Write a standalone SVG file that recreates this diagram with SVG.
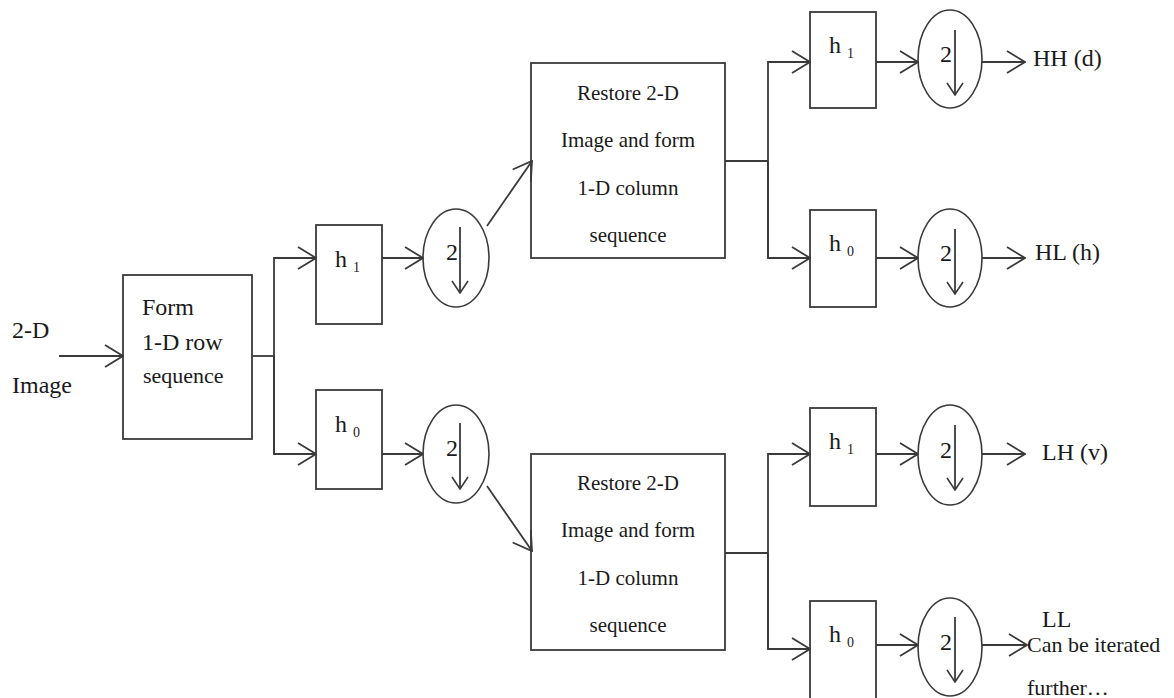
<svg xmlns="http://www.w3.org/2000/svg" width="1174" height="698" viewBox="0 0 1174 698">
<style>
.box{fill:#fff;stroke:#3a3a3a;stroke-width:1.8}
.ell{fill:#fff;stroke:#3a3a3a;stroke-width:1.6}
.ln{fill:none;stroke:#3a3a3a;stroke-width:1.8}
.t{font-family:"Liberation Serif","Times New Roman",serif;fill:#1a1a1a}
.f24{font-size:24px}
.f22{font-size:22px}
.f21{font-size:21px}
.sub{font-size:14px}
</style>
<defs>
<marker id="ah" viewBox="0 0 20 24" refX="19" refY="12" markerWidth="20" markerHeight="24" orient="auto" markerUnits="userSpaceOnUse">
<path d="M1,1 L19,12 L1,23" fill="none" stroke="#3a3a3a" stroke-width="1.8"/>
</marker>
<marker id="dn" viewBox="0 0 14 18" refX="13" refY="9" markerWidth="14" markerHeight="18" orient="auto" markerUnits="userSpaceOnUse">
<path d="M1,1 L13,9 L1,17" fill="none" stroke="#3a3a3a" stroke-width="1.6"/>
</marker>
</defs>
<rect width="1174" height="698" fill="#fff"/>

<g id="input-label">
<text class="t f24" x="12" y="338">2-D</text>
<text class="t f24" x="12" y="393">Image</text>
</g>

<g id="form-row">
<rect class="box" x="123" y="275" width="129" height="164"/>
<text class="t f24" x="142" y="315">Form</text>
<text class="t f24" x="142" y="350">1-D row</text>
<text class="t f22" x="143" y="383">sequence</text>
</g>

<g id="h1-row">
<rect class="box" x="316" y="225" width="66" height="99"/>
<text class="t f24" x="335" y="267">h <tspan class="sub" dy="5">1</tspan></text>
</g>
<g id="h0-row">
<rect class="box" x="316" y="390" width="66" height="99"/>
<text class="t f24" x="335" y="432">h <tspan class="sub" dy="5">0</tspan></text>
</g>

<g id="ds-row-h">
<ellipse class="ell" cx="456" cy="258" rx="33" ry="49"/>
<text class="t f24" x="446" y="260">2</text>
<line class="ln" x1="460" y1="227" x2="460" y2="293" marker-end="url(#dn)"/>
</g>
<g id="ds-row-l">
<ellipse class="ell" cx="456" cy="454" rx="33" ry="49"/>
<text class="t f24" x="446" y="456">2</text>
<line class="ln" x1="460" y1="423" x2="460" y2="489" marker-end="url(#dn)"/>
</g>

<g id="restore-top">
<rect class="box" x="531" y="63" width="194" height="195"/>
<text class="t f21" x="628" y="100" text-anchor="middle">Restore 2-D</text>
<text class="t f21" x="628" y="147" text-anchor="middle">Image and form</text>
<text class="t f21" x="628" y="195" text-anchor="middle">1-D column</text>
<text class="t f21" x="628" y="242" text-anchor="middle">sequence</text>
</g>
<g id="restore-bottom">
<rect class="box" x="531" y="454" width="194" height="196"/>
<text class="t f21" x="628" y="490" text-anchor="middle">Restore 2-D</text>
<text class="t f21" x="628" y="537" text-anchor="middle">Image and form</text>
<text class="t f21" x="628" y="585" text-anchor="middle">1-D column</text>
<text class="t f21" x="628" y="632" text-anchor="middle">sequence</text>
</g>

<g id="hh-filter">
<rect class="box" x="810" y="12" width="66" height="96"/>
<text class="t f24" x="829" y="53">h <tspan class="sub" dy="5">1</tspan></text>
</g>
<g id="hl-filter">
<rect class="box" x="810" y="210" width="66" height="97"/>
<text class="t f24" x="829" y="251">h <tspan class="sub" dy="5">0</tspan></text>
</g>
<g id="lh-filter">
<rect class="box" x="810" y="408" width="66" height="98"/>
<text class="t f24" x="829" y="449">h <tspan class="sub" dy="5">1</tspan></text>
</g>
<g id="ll-filter">
<rect class="box" x="810" y="601" width="66" height="98"/>
<text class="t f24" x="829" y="642">h <tspan class="sub" dy="5">0</tspan></text>
</g>

<g id="hh-ds">
<ellipse class="ell" cx="950" cy="59" rx="32" ry="49"/>
<text class="t f24" x="940" y="62">2</text>
<line class="ln" x1="955" y1="30" x2="955" y2="95" marker-end="url(#dn)"/>
</g>
<g id="hl-ds">
<ellipse class="ell" cx="950" cy="258" rx="32" ry="49"/>
<text class="t f24" x="940" y="261">2</text>
<line class="ln" x1="955" y1="229" x2="955" y2="294" marker-end="url(#dn)"/>
</g>
<g id="lh-ds">
<ellipse class="ell" cx="950" cy="455" rx="32" ry="50"/>
<text class="t f24" x="940" y="458">2</text>
<line class="ln" x1="955" y1="425" x2="955" y2="490" marker-end="url(#dn)"/>
</g>
<g id="ll-ds">
<ellipse class="ell" cx="950" cy="647" rx="32" ry="49"/>
<text class="t f24" x="940" y="650">2</text>
<line class="ln" x1="955" y1="617" x2="955" y2="682" marker-end="url(#dn)"/>
</g>

<g id="outputs">
<text class="t f24" x="1033" y="66">HH (d)</text>
<text class="t f24" x="1035" y="260">HL (h)</text>
<text class="t f24" x="1042" y="460">LH (v)</text>
<text class="t f24" x="1042" y="627">LL</text>
<text class="t f22" x="1027" y="652">Can be iterated</text>
<text class="t f22" x="1027" y="695">further…</text>
</g>

<g id="connectors">
<line class="ln" x1="59" y1="356" x2="123" y2="356" marker-end="url(#ah)"/>
<polyline class="ln" points="252,356 274,356"/>
<polyline class="ln" points="274,454 274,258 316,258" marker-end="url(#ah)"/>
<polyline class="ln" points="274,356 274,454 316,454" marker-end="url(#ah)"/>
<line class="ln" x1="382" y1="258" x2="423" y2="258" marker-end="url(#ah)"/>
<line class="ln" x1="382" y1="454" x2="423" y2="454" marker-end="url(#ah)"/>
<line class="ln" x1="487" y1="226" x2="532" y2="161" marker-end="url(#ah)"/>
<line class="ln" x1="487" y1="486" x2="532" y2="551" marker-end="url(#ah)"/>
<polyline class="ln" points="725,161 768,161"/>
<polyline class="ln" points="768,258 768,62 810,62" marker-end="url(#ah)"/>
<polyline class="ln" points="768,161 768,258 810,258" marker-end="url(#ah)"/>
<polyline class="ln" points="725,553 768,553"/>
<polyline class="ln" points="768,649 768,454 810,454" marker-end="url(#ah)"/>
<polyline class="ln" points="768,553 768,649 810,649" marker-end="url(#ah)"/>
<line class="ln" x1="876" y1="62" x2="918" y2="62" marker-end="url(#ah)"/>
<line class="ln" x1="876" y1="258" x2="918" y2="258" marker-end="url(#ah)"/>
<line class="ln" x1="876" y1="454" x2="918" y2="454" marker-end="url(#ah)"/>
<line class="ln" x1="876" y1="645" x2="918" y2="645" marker-end="url(#ah)"/>
<line class="ln" x1="982" y1="62" x2="1025" y2="62" marker-end="url(#ah)"/>
<line class="ln" x1="982" y1="258" x2="1025" y2="258" marker-end="url(#ah)"/>
<line class="ln" x1="982" y1="454" x2="1025" y2="454" marker-end="url(#ah)"/>
<line class="ln" x1="982" y1="645" x2="1027" y2="645" marker-end="url(#ah)"/>
</g>
</svg>
